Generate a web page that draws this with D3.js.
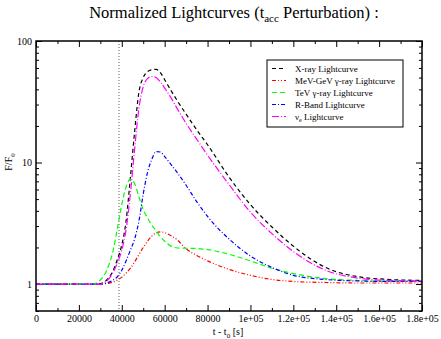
<!DOCTYPE html>
<html>
<head>
<meta charset="utf-8">
<script src="https://cdn.jsdelivr.net/npm/d3@7"></script>
<style>
body { margin: 0; background: #fff; }
text { font-family: "Liberation Serif", "DejaVu Serif", serif; }
</style>
</head>
<body>
<script>
// time grid shared by all curves (s)
const times = [0, 20000, 26000, 30000, 33000, 36000, 38000, 40000, 42000, 44000, 46000, 48000, 50000, 52000, 54000, 56000, 58000, 60000, 63000, 66000, 70000, 75000, 80000, 90000, 100000, 110000, 120000, 135000, 150000, 165000, 180000];

const xray   = [1, 1, 1, 1.01, 1.08, 1.3, 1.6, 2.1, 3.3, 7.5, 18, 38, 50, 56, 58, 58.5, 55, 48, 39, 32, 25, 18.5, 14, 7.6, 4.5, 2.95, 2.05, 1.37, 1.15, 1.09, 1.07];
const mevgev = [1, 1, 1, 1, 1.01, 1.04, 1.08, 1.14, 1.23, 1.35, 1.52, 1.75, 2.0, 2.25, 2.48, 2.63, 2.69, 2.65, 2.5, 2.3, 1.95, 1.72, 1.55, 1.32, 1.18, 1.09, 1.05, 1.03, 1.02, 1.02, 1.02];
const tev    = [1, 1, 1, 1.08, 1.3, 1.9, 2.9, 4.5, 6.3, 7.3, 6.7, 5.2, 4.1, 3.5, 3.05, 2.75, 2.45, 2.25, 2.05, 1.98, 1.97, 1.96, 1.92, 1.76, 1.55, 1.35, 1.22, 1.11, 1.07, 1.05, 1.05];
const rband  = [1, 1, 1, 1, 1.02, 1.08, 1.15, 1.3, 1.55, 1.9, 2.35, 3.3, 5.5, 8.3, 10.6, 12.3, 12.2, 11.2, 9.6, 8.2, 6.5, 4.75, 3.6, 2.35, 1.7, 1.37, 1.18, 1.09, 1.06, 1.05, 1.05];
const nue    = [1, 1, 1, 1, 1.06, 1.25, 1.5, 1.9, 2.8, 5.5, 13, 28, 42, 49, 51, 50, 46, 41, 34, 27.5, 21, 15.5, 11.5, 6.6, 3.9, 2.6, 1.85, 1.3, 1.12, 1.07, 1.06];

const perturbTime = 38700;

const xMajor = d3.range(0, 180001, 20000);
const xMinor = d3.range(10000, 180000, 20000);
const yMajor = [1, 10, 100];
const yMinor = [0.6, 0.7, 0.8, 0.9, 2, 3, 4, 5, 6, 7, 8, 9, 20, 30, 40, 50, 60, 70, 80, 90];

const series = [
  {name: "xray",   values: xray,   color: "#000000", dash: "4,3"},
  {name: "mevgev", values: mevgev, color: "#ff0000", dash: "4,2,1,2,1,2"},
  {name: "tev",    values: tev,    color: "#00ff00", dash: "5,3"},
  {name: "rband",  values: rband,  color: "#0000ff", dash: "4,2,1,2"},
  {name: "nue",    values: nue,    color: "#ff00ff", dash: "7,2,1,2"}
];

let w = 441, h = 339;
let mLeft = 36, mRight = 422, mTop = 41, mBottom = 311;

let svg = d3.select("body").append("svg")
    .attr("width", w)
    .attr("height", h);

let x = d3.scaleLinear().domain([0, 180000]).range([mLeft, mRight]);
let y = d3.scaleLog().domain([0.6, 100]).range([mBottom, mTop]);

const fmtX = d => d === 0 ? "0" : (d >= 100000 ? (d / 100000).toString() + "e+05" : d3.format("d")(d));

// axes, ticks inward on all sides
function drawAxis(axis, tx, ty) {
  let g = svg.append("g").attr("transform", `translate(${tx},${ty})`).call(axis);
  g.select(".domain").remove();
  g.selectAll("line").attr("stroke", "#000");
  g.selectAll("text").attr("font-family", "Liberation Serif").attr("font-size", 10).attr("fill", "#000");
  return g;
}

drawAxis(d3.axisBottom(x).tickValues(xMajor).tickSize(-6).tickPadding(4).tickFormat(fmtX), 0, mBottom);
drawAxis(d3.axisBottom(x).tickValues(xMinor).tickSize(-3).tickFormat(""), 0, mBottom);
drawAxis(d3.axisTop(x).tickValues(xMajor).tickSize(-6).tickFormat(""), 0, mTop);
drawAxis(d3.axisTop(x).tickValues(xMinor).tickSize(-3).tickFormat(""), 0, mTop);

drawAxis(d3.axisLeft(y).tickValues(yMajor).tickSize(-6).tickPadding(4).tickFormat(d3.format("d")), mLeft, 0);
drawAxis(d3.axisLeft(y).tickValues(yMinor).tickSize(-3).tickFormat(""), mLeft, 0);
drawAxis(d3.axisRight(y).tickValues(yMajor).tickSize(-6).tickFormat(""), mRight, 0);
drawAxis(d3.axisRight(y).tickValues(yMinor).tickSize(-3).tickFormat(""), mRight, 0);

// dotted marker of the perturbation
svg.append("line")
    .attr("x1", x(perturbTime)).attr("x2", x(perturbTime))
    .attr("y1", mTop).attr("y2", mBottom)
    .attr("stroke", "#777")
    .attr("stroke-width", 1.2)
    .attr("stroke-dasharray", "1,2");

let line = d3.line()
    .x((d, i) => x(times[i]))
    .y(d => y(d))
    .curve(d3.curveMonotoneX);

svg.selectAll("path.curve")
    .data(series)
    .enter()
    .append("path")
    .attr("class", "curve")
    .attr("d", d => line(d.values))
    .attr("fill", "none")
    .attr("stroke", d => d.color)
    .attr("stroke-width", 1.2)
    .attr("stroke-dasharray", d => d.dash);

// frame
svg.append("rect")
    .attr("x", mLeft).attr("y", mTop)
    .attr("width", mRight - mLeft).attr("height", mBottom - mTop)
    .attr("fill", "none").attr("stroke", "#000").attr("stroke-width", 1.5);

// title
let title = svg.append("text")
    .attr("x", 234).attr("y", 18)
    .attr("text-anchor", "middle")
    .attr("font-size", 16.5);
title.append("tspan").text("Normalized Lightcurves (t");
title.append("tspan").attr("font-size", 11).attr("dy", 4).text("acc");
title.append("tspan").attr("dy", -4).text(" Perturbation) :");

// axis labels
let xl = svg.append("text")
    .attr("x", 228).attr("y", 335)
    .attr("text-anchor", "middle")
    .attr("font-size", 10);
xl.append("tspan").text("t - t");
xl.append("tspan").attr("font-size", 7).attr("dy", 3).text("0");
xl.append("tspan").attr("dy", -3).text(" [s]");

let yl = svg.append("text")
    .attr("transform", "translate(12,162) rotate(-90)")
    .attr("text-anchor", "middle")
    .attr("font-size", 10);
yl.append("tspan").text("F/F");
yl.append("tspan").attr("font-size", 7).attr("dy", 3).text("0");

// legend
const legendLabels = [
  ["X-ray Lightcurve"],
  ["MeV-GeV \u03b3-ray Lightcurve"],
  ["TeV \u03b3-ray Lightcurve"],
  ["R-Band Lightcurve"],
  ["\u03bd", "e", " Lightcurve"]
];

let legend = svg.append("g");
legend.append("rect")
    .attr("x", 267).attr("y", 60)
    .attr("width", 136).attr("height", 67)
    .attr("fill", "#fff").attr("stroke", "#000").attr("stroke-width", 1);

let items = legend.selectAll("g.item")
    .data(series)
    .enter()
    .append("g")
    .attr("class", "item")
    .attr("transform", (d, i) => `translate(0,${68.5 + i * 12})`);

items.append("line")
    .attr("x1", 272).attr("x2", 286)
    .attr("stroke", d => d.color)
    .attr("stroke-width", 1.2)
    .attr("stroke-dasharray", d => d.dash);

items.each(function (d, i) {
  let t = d3.select(this).append("text")
      .attr("x", 295).attr("y", 3)
      .attr("font-size", 9);
  let parts = legendLabels[i];
  if (parts.length === 1) {
    t.text(parts[0]);
  } else {
    t.append("tspan").text(parts[0]);
    t.append("tspan").attr("font-size", 6).attr("dy", 2).text(parts[1]);
    t.append("tspan").attr("dy", -2).text(parts[2]);
  }
});
</script>
</body>
</html>
